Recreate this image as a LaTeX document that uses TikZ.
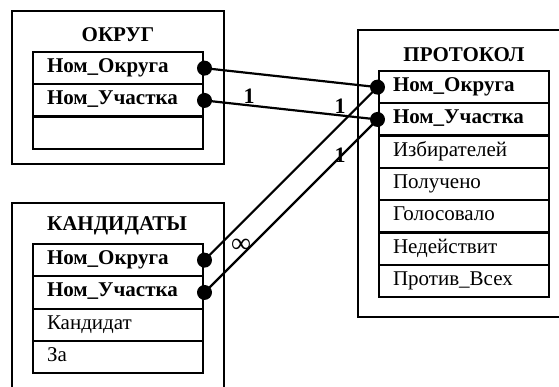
\documentclass[tikz,border=0pt]{standalone}
\usepackage{fontspec}
\setmainfont{Liberation Serif}
\usetikzlibrary{positioning}

\begin{document}
\begin{tikzpicture}[
    x=1pt, y=-1pt,
    field/.style={rectangle, draw, line width=2.2pt, outer sep=0pt, minimum height=32.3pt, text width=142pt, inner xsep=14pt, inner ysep=0pt, align=left, text height=14pt, text depth=5pt, font=\fontsize{21}{24}\selectfont},
    key/.style={field, font=\fontsize{21}{24}\selectfont\bfseries},
    title/.style={font=\fontsize{21}{24}\selectfont\bfseries},
    box/.style={line width=2pt},
    dot/.style={circle, fill, inner sep=0pt, minimum size=15pt},
    link/.style={line width=2.2pt},
    card/.style={font=\fontsize{22}{24}\selectfont\bfseries}
]
    \useasboundingbox (0,0) rectangle (559,387);

    % ОКРУГ
    \draw [box] (12,11) rectangle (224,164);
    \node [title] (okt) at (118,35) {ОКРУГ};
    \node [key, anchor=north west] (ok1) at (33,52) {Ном\_Округа};
    \node [key, below=0pt of ok1] (ok2) {Ном\_Участка};
    \node [field, below=0pt of ok2] (ok3) {};

    % ПРОТОКОЛ
    \draw [box] (575,30) -- (358,30) -- (358,317) -- (575,317);
    \node [title] (prt) at (464,55) {ПРОТОКОЛ};
    \node [key, anchor=north west] (pr1) at (379,71) {Ном\_Округа};
    \node [key, below=0pt of pr1] (pr2) {Ном\_Участка};
    \node [field, below=0pt of pr2] (pr3) {Избирателей};
    \node [field, below=0pt of pr3] (pr4) {Получено};
    \node [field, below=0pt of pr4] (pr5) {Голосовало};
    \node [field, below=0pt of pr5] (pr6) {Недействит};
    \node [field, below=0pt of pr6] (pr7) {Против\_Всех};

    % КАНДИДАТЫ
    \draw [box] (12,395) -- (12,203) -- (224,203) -- (224,395);
    \node [title] (kat) at (117,226) {КАНДИДАТЫ};
    \node [key, anchor=north west] (ka1) at (33,244) {Ном\_Округа};
    \node [key, below=0pt of ka1] (ka2) {Ном\_Участка};
    \node [field, below=0pt of ka2] (ka3) {Кандидат};
    \node [field, below=0pt of ka3] (ka4) {За};

    % links
    \node [dot] (dok1) at ([xshift=1.5pt]ok1.east) {};
    \node [dot] (dok2) at ([xshift=1.5pt]ok2.east) {};
    \node [dot] (dka1) at ([xshift=1.5pt]ka1.east) {};
    \node [dot] (dka2) at ([xshift=1.5pt]ka2.east) {};
    \node [dot] (dpr1) at ([xshift=-1.5pt]pr1.west) {};
    \node [dot] (dpr2) at ([xshift=-1.5pt]pr2.west) {};
    \draw [link] (dok1.center) -- (dpr1.center);
    \draw [link] (dok2.center) -- (dpr2.center);
    \draw [link] (dka1.center) -- (dpr1.center);
    \draw [link] (dka2.center) -- (dpr2.center);

    \node [card] (c1) at (249,96) {1};
    \node [card] (c2) at (340,106) {1};
    \node [card] (c3) at (340,155) {1};
    \node [font=\fontsize{28}{30}\selectfont] (cinf) at (241,246) {∞};
\end{tikzpicture}
\end{document}
